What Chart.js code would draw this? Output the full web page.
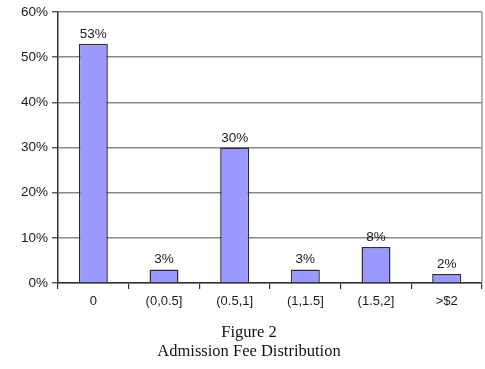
<!DOCTYPE html>
<html>
<head>
<meta charset="utf-8">
<script src="https://cdn.jsdelivr.net/npm/chart.js@4"></script>
<style>
  html, body { margin: 0; padding: 0; background: #fff; }
  #wrap { width: 485px; height: 369px; position: relative; }
</style>
</head>
<body>
<div id="wrap"><canvas id="c"></canvas></div>
<script>
// Admission fee ranges and the share of venues in each
const categories = ['0', '(0,0.5]', '(0.5,1]', '(1,1.5]', '(1.5,2]', '>$2'];
const shares = [53, 3, 30, 3, 8, 2];
const yTicks = [0, 10, 20, 30, 40, 50, 60];
const captionLines = ['Figure 2', 'Admission Fee Distribution'];

const sans = '"Liberation Sans", Arial, sans-serif';

// Value labels above each bar, right border and caption below the plot
const extras = {
  id: 'extras',
  afterDatasetsDraw(chart) {
    const { ctx, chartArea } = chart;
    const meta = chart.getDatasetMeta(0);
    ctx.save();
    ctx.fillStyle = '#1a1a1a';
    ctx.font = '13.5px ' + sans;
    ctx.textAlign = 'center';
    ctx.textBaseline = 'bottom';
    meta.data.forEach((bar, i) => {
      ctx.fillText(shares[i] + '%', bar.x, bar.y - 3);
    });
    // right frame line
    ctx.strokeStyle = '#9a9a9a';
    ctx.lineWidth = 1.5;
    ctx.beginPath();
    ctx.moveTo(chartArea.right, chartArea.top);
    ctx.lineTo(chartArea.right, chartArea.bottom);
    ctx.stroke();
    // caption
    ctx.fillStyle = '#111';
    ctx.font = '16.5px "Liberation Serif", "Times New Roman", serif';
    ctx.textBaseline = 'middle';
    const cx = 249;
    ctx.fillText(captionLines[0], cx, 333);
    ctx.fillText(captionLines[1], cx, 352);
    ctx.restore();
  }
};

new Chart(document.getElementById('c'), {
  type: 'bar',
  data: {
    labels: categories,
    datasets: [{
      data: shares,
      backgroundColor: '#9999ff',
      borderColor: '#2e2e2e',
      borderWidth: 1.5,
      barPercentage: 0.41,
      categoryPercentage: 1
    }]
  },
  options: {
    responsive: true,
    maintainAspectRatio: false,
    animation: false,
    layout: { padding: { top: 7, right: 3, bottom: 0, left: 0 } },
    plugins: {
      legend: { display: false },
      tooltip: { enabled: false }
    },
    scales: {
      x: {
        afterFit(scale) { scale.height = 86; },
        grid: {
          drawOnChartArea: false,
          drawTicks: true,
          tickLength: 6,
          color: '#333',
          lineWidth: 1.2
        },
        border: { color: '#333', width: 1.5 },
        ticks: {
          color: '#1a1a1a',
          padding: 5,
          font: { family: sans, size: 13 }
        }
      },
      y: {
        min: 0,
        max: 60,
        afterFit(scale) { scale.width = 58; },
        afterBuildTicks(scale) { scale.ticks = yTicks.map(v => ({ value: v })); },
        grid: {
          color: '#8a8a8a',
          lineWidth: 1.6,
          tickLength: 6,
          tickColor: '#333',
          tickWidth: 1.2
        },
        border: { color: '#333', width: 1.5 },
        ticks: {
          color: '#1a1a1a',
          padding: 4,
          font: { family: sans, size: 13.5 },
          callback: v => v + '%'
        }
      }
    }
  },
  plugins: [extras]
});
</script>
</body>
</html>
